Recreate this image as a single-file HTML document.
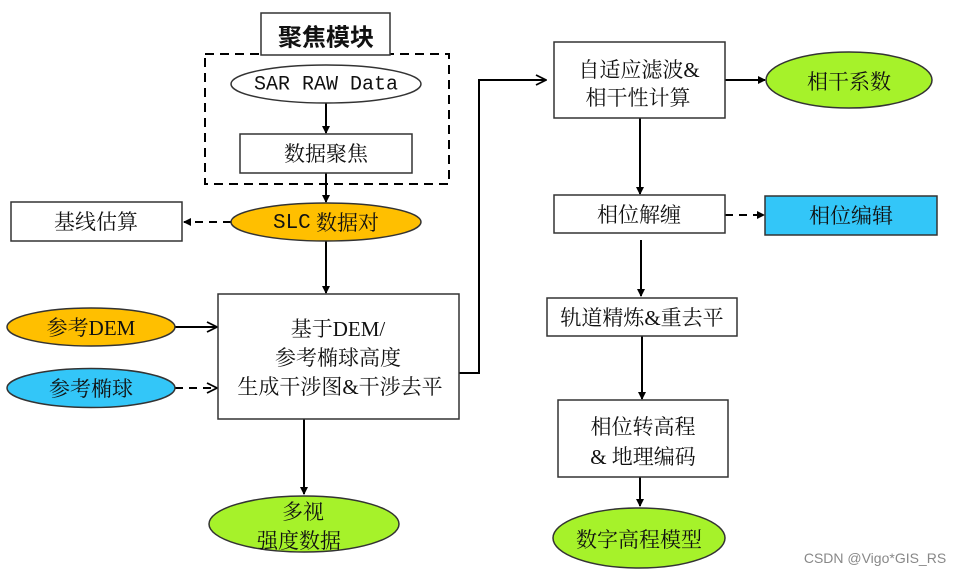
<!DOCTYPE html>
<html><head><meta charset="utf-8"><style>
html,body{margin:0;padding:0;background:#fff;}
svg{display:block;}
text{font-family:"Liberation Serif","Noto Serif CJK SC",serif;font-size:21px;fill:#111;text-anchor:middle;dominant-baseline:central;}
</style></head><body>
<svg width="970" height="577" viewBox="0 0 970 577" xmlns="http://www.w3.org/2000/svg">
<defs>
<marker id="a" markerWidth="8" markerHeight="8" refX="7" refY="4" orient="auto" markerUnits="userSpaceOnUse"><path d="M0,0 L8,4 L0,8 z" fill="#000"/></marker>
<marker id="o" markerWidth="12" markerHeight="12" refX="11" refY="6" orient="auto" markerUnits="userSpaceOnUse"><path d="M1,1 L11,6 L1,11" fill="none" stroke="#000" stroke-width="1.8"/></marker>
</defs>
<g stroke="#000" stroke-width="2" fill="none">
<!-- dashed focus box -->
<rect x="205" y="54" width="244" height="130" stroke-dasharray="9,6"/>
<line x1="326" y1="103" x2="326" y2="133" marker-end="url(#a)"/>
<line x1="326" y1="173" x2="326" y2="202" marker-end="url(#a)"/>
<line x1="231" y1="222" x2="184" y2="222" stroke-dasharray="8,6" marker-end="url(#a)"/>
<line x1="326" y1="241" x2="326" y2="293" marker-end="url(#a)"/>
<line x1="175" y1="327" x2="217" y2="327" marker-end="url(#o)"/>
<line x1="175" y1="388" x2="217" y2="388" stroke-dasharray="8,6" marker-end="url(#o)"/>
<polyline points="459,373 479,373 479,80 546,80" marker-end="url(#o)"/>
<line x1="304" y1="419" x2="304" y2="494" marker-end="url(#a)"/>
<line x1="725" y1="80" x2="765" y2="80" marker-end="url(#a)"/>
<line x1="640" y1="118" x2="640" y2="194" marker-end="url(#a)"/>
<line x1="725" y1="215" x2="764" y2="215" stroke-dasharray="8,6" marker-end="url(#a)"/>
<line x1="641" y1="240" x2="641" y2="296" marker-end="url(#a)"/>
<line x1="642" y1="336" x2="642" y2="399" marker-end="url(#a)"/>
<line x1="640" y1="477" x2="640" y2="506" marker-end="url(#a)"/>
</g>
<g stroke="#333" stroke-width="1.5">
<rect x="261" y="13" width="129" height="42" fill="#fff"/>
<ellipse cx="326" cy="84" rx="95" ry="19" fill="#fff"/>
<rect x="240" y="134" width="172" height="39" fill="#fff"/>
<ellipse cx="326" cy="222" rx="95" ry="19" fill="#ffbf00"/>
<rect x="11" y="202" width="171" height="39" fill="#fff"/>
<rect x="218" y="294" width="241" height="125" fill="#fff"/>
<ellipse cx="91" cy="327" rx="84" ry="19" fill="#ffbf00"/>
<ellipse cx="91" cy="388" rx="84" ry="19.5" fill="#33c6f8"/>
<ellipse cx="304" cy="524" rx="95" ry="28" fill="#a6f22a"/>
<rect x="554" y="42" width="171" height="76" fill="#fff"/>
<ellipse cx="849" cy="80" rx="83" ry="28" fill="#a6f22a"/>
<rect x="554" y="195" width="171" height="38" fill="#fff"/>
<rect x="765" y="196" width="172" height="39" fill="#33c6f8"/>
<rect x="547" y="298" width="190" height="38" fill="#fff"/>
<rect x="558" y="400" width="170" height="77" fill="#fff"/>
<ellipse cx="639" cy="538" rx="86" ry="30" fill="#a6f22a"/>
</g>
<text x="326" y="35" style="font-size:24px;font-weight:bold;font-family:'Noto Sans CJK SC',sans-serif">聚焦模块</text>
<text x="326" y="85" style="font-family:'Liberation Mono',monospace;font-size:20px">SAR RAW Data</text>
<text x="326" y="154">数据聚焦</text>
<text x="326" y="223"><tspan style="font-family:'Liberation Mono',monospace">SLC</tspan> 数据对</text>
<text x="96" y="222">基线估算</text>
<text x="338" y="329">基于DEM/</text>
<text x="338" y="358">参考椭球高度</text>
<text x="340" y="387">生成干涉图&amp;干涉去平</text>
<text x="91" y="328">参考DEM</text>
<text x="91" y="389">参考椭球</text>
<text x="303" y="512">多视</text>
<text x="299" y="541">强度数据</text>
<text x="639" y="70">自适应滤波&amp;</text>
<text x="638" y="98">相干性计算</text>
<text x="849" y="82">相干系数</text>
<text x="639" y="215">相位解缠</text>
<text x="851" y="216">相位编辑</text>
<text x="642" y="318">轨道精炼&amp;重去平</text>
<text x="643" y="427">相位转高程</text>
<text x="643" y="457">&amp; 地理编码</text>
<text x="639" y="540">数字高程模型</text>
<text x="875" y="558" style="font-family:'Liberation Sans',sans-serif;font-size:14px;fill:#888">CSDN @Vigo*GIS_RS</text>
</svg>
</body></html>
